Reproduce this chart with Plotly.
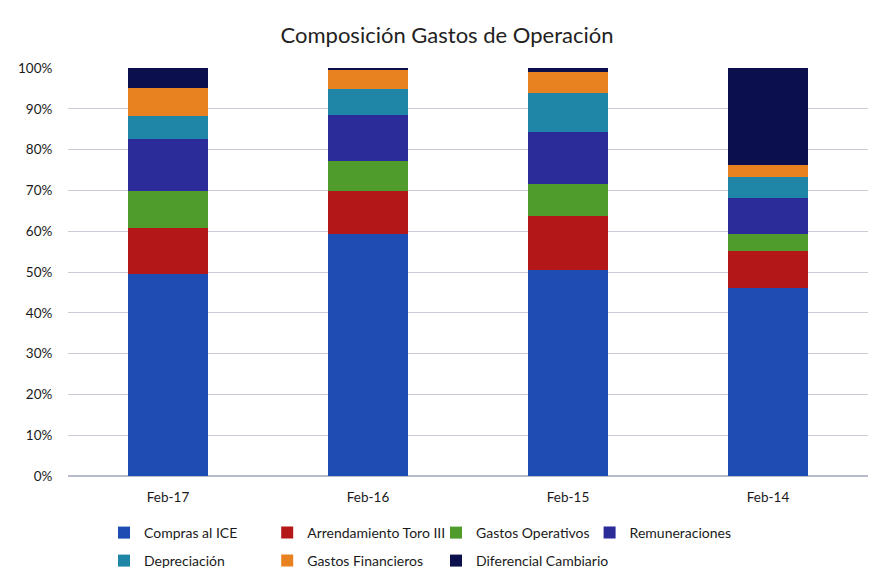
import plotly.graph_objects as go

categories = ["Feb-17", "Feb-16", "Feb-15", "Feb-14"]
series_names = ["Compras al ICE", "Arrendamiento Toro III", "Gastos Operativos",
                "Remuneraciones", "Depreciación", "Gastos Financieros", "Diferencial Cambiario"]
compras = [49.5, 59.2, 50.5, 46.2]
arrendamiento = [11.2, 10.6, 13.3, 8.9]
gastos_operativos = [9.2, 7.5, 7.7, 4.3]
remuneraciones = [12.7, 11.2, 12.8, 8.7]
depreciacion = [5.6, 6.3, 9.5, 5.1]
gastos_financieros = [6.8, 4.6, 5.2, 3.1]
diferencial = [5.0, 0.6, 1.0, 23.7]

colors = ["#1d4db3", "#b31717", "#4f9b2c", "#2b2b99", "#1f86a8", "#e8811f", "#0b104d"]
values = [compras, arrendamiento, gastos_operativos, remuneraciones,
          depreciacion, gastos_financieros, diferencial]

# legend placement (paper coords): 4 items on the first row, 3 on the second
legend_x = [0.045, 0.249, 0.46, 0.652, 0.045, 0.249, 0.46]
legend_y = [-0.1397, -0.1397, -0.1397, -0.1397, -0.2083, -0.2083, -0.2083]

fig = go.Figure()
legend_layout = {}
for i, (name, vals, col) in enumerate(zip(series_names, values, colors)):
    key = "legend" if i == 0 else f"legend{i + 1}"
    fig.add_trace(go.Bar(
        x=categories, y=[v / 100 for v in vals], name=name,
        marker=dict(color=col, line=dict(width=0)),
        legend=key, showlegend=True,
    ))
    legend_layout[key] = dict(orientation="h", xanchor="left", yanchor="middle",
                              x=legend_x[i], y=legend_y[i], visible=True,
                              font=dict(size=14), itemwidth=30,
                              bgcolor="rgba(0,0,0,0)")

font_family = "Lato, 'Open Sans', sans-serif"
fig.update_layout(
    barmode="stack",
    bargap=0.6,
    showlegend=True,
    width=878, height=581,
    paper_bgcolor="white", plot_bgcolor="white",
    font=dict(family=font_family, size=13, color="#1a1a1a"),
    title=dict(text="Composición Gastos de Operación", x=0.5, xanchor="center",
               y=0.9535, yanchor="middle", yref="container",
               font=dict(size=22, color="#222222")),
    margin=dict(l=60, r=18, t=60, b=113, autoexpand=False),
    xaxis=dict(showgrid=False, ticks="outside", ticklen=9, tickcolor="rgba(0,0,0,0)",
               tickfont=dict(size=13.5), showline=False),
    yaxis=dict(range=[0, 1], dtick=0.1, tickformat=".0%", showgrid=True,
               gridcolor="#c9cdd8", gridwidth=1, zeroline=True, zerolinecolor="#b8bcc8",
               tickfont=dict(size=13.5), ticks="outside", ticklen=12,
               tickcolor="rgba(0,0,0,0)"),
    **legend_layout,
)

fig.write_html("out.html")
